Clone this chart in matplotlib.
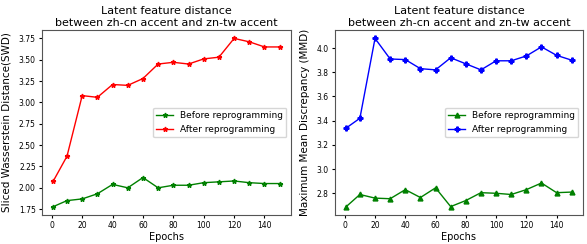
import matplotlib
matplotlib.use("Agg")
import matplotlib.pyplot as plt

epochs = [1, 10, 20, 30, 40, 50, 60, 70, 80, 90, 100, 110, 120, 130, 140, 150]

swd_before = [1.78, 1.85, 1.87, 1.93, 2.04, 2.00, 2.12, 2.00, 2.03, 2.03, 2.06, 2.07, 2.08, 2.06, 2.05, 2.05]
swd_after = [2.08, 2.37, 3.08, 3.06, 3.21, 3.20, 3.28, 3.45, 3.47, 3.45, 3.51, 3.53, 3.75, 3.71, 3.65, 3.65]

mmd_before = [2.69, 2.79, 2.76, 2.755, 2.83, 2.765, 2.845, 2.69, 2.74, 2.805, 2.80, 2.79, 2.83, 2.885, 2.805, 2.81]
mmd_after = [3.34, 3.42, 4.08, 3.91, 3.905, 3.83, 3.82, 3.92, 3.87, 3.82, 3.895, 3.895, 3.935, 4.01, 3.94, 3.90]

title = "Latent feature distance\nbetween zh-cn accent and zn-tw accent"
labels = ["Before reprogramming", "After reprogramming"]

fig = plt.figure(figsize=(5.87, 2.44), dpi=100)
ax1 = fig.add_axes([42/587, 1-215/244, 249/587, 185/244])
ax2 = fig.add_axes([335/587, 1-215/244, 248/587, 185/244])

# left: SWD
ax1.plot(epochs, swd_before, color="green", marker="*", markersize=3.5, linewidth=1, label=labels[0])
ax1.plot(epochs, swd_after, color="red", marker="*", markersize=3.5, linewidth=1, label=labels[1])
ax1.set_yticks([1.75, 2.00, 2.25, 2.50, 2.75, 3.00, 3.25, 3.50, 3.75])
ax1.set_ylabel("Sliced Wasserstein Distance(SWD)", fontsize=7.5, labelpad=5)

# right: MMD
ax2.plot(epochs, mmd_before, color="green", marker="^", markersize=3.5, linewidth=1, label=labels[0])
ax2.plot(epochs, mmd_after, color="blue", marker="P", markersize=3.5, linewidth=1, label=labels[1])
ax2.set_yticks([2.8, 3.0, 3.2, 3.4, 3.6, 3.8, 4.0])
ax2.set_ylabel("Maximum Mean Discrepancy (MMD)", fontsize=7.5, labelpad=5)

for ax in (ax1, ax2):
    ax.set_title(title, fontsize=8, pad=3)
    ax.set_xlabel("Epochs", fontsize=7, labelpad=1)
    ax.set_xticks([0, 20, 40, 60, 80, 100, 120, 140])
    ax.tick_params(labelsize=5.5, length=2.5, pad=2)
    ax.legend(loc="center right", fontsize=6.5, handlelength=1.8, borderpad=0.4)
    for s in ax.spines.values():
        s.set_color("#555555")
        s.set_linewidth(0.8)

plt.savefig("out.png", dpi=100)
